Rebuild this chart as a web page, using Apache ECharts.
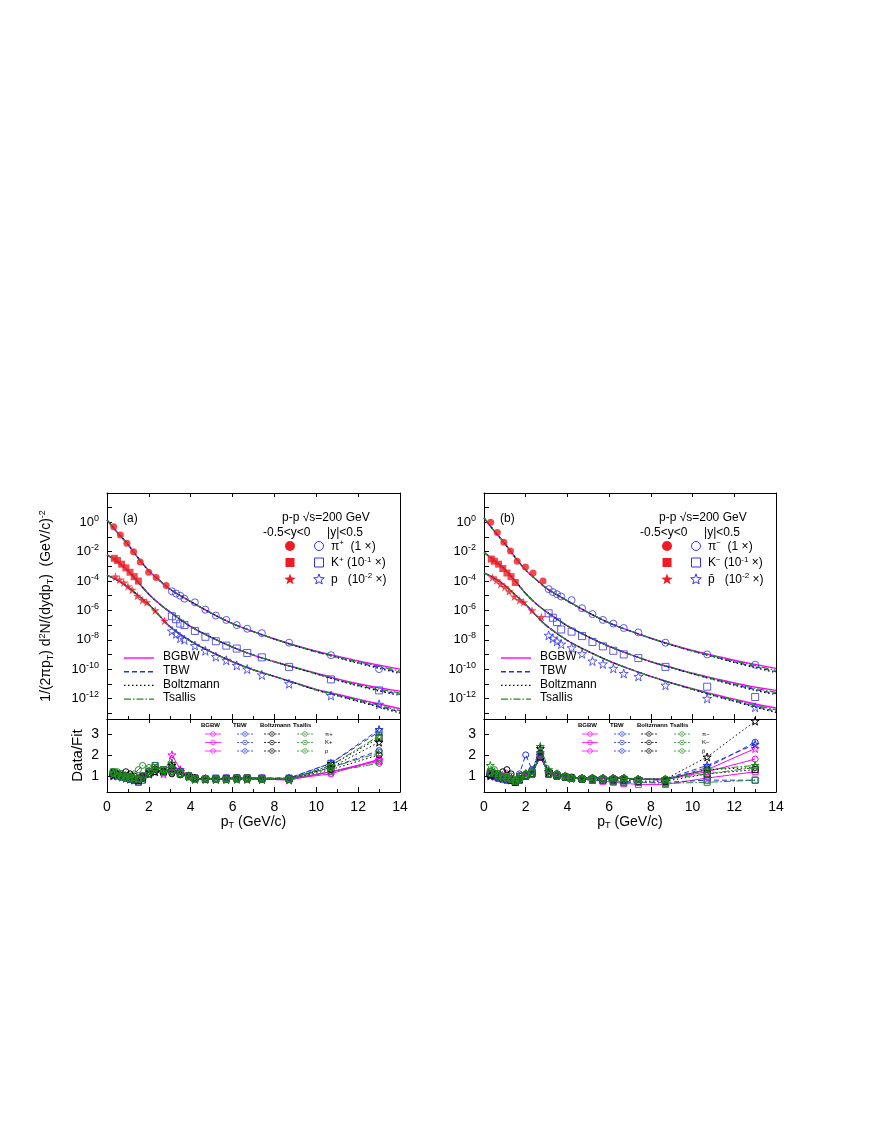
<!DOCTYPE html><html><head><meta charset="utf-8">
<script src="https://cdn.jsdelivr.net/npm/echarts@6/dist/echarts.min.js"></script>
<style>html,body{margin:0;background:#fff}#c{width:872px;height:1128px}</style></head><body><div id="c"></div>
<script>
// ---- data (log10 of spectra) ----
const xRedPi=[0.32,0.64,0.95,1.27,1.59,1.99,2.35,2.83];
const aRedPi=[-0.3,-0.86,-1.43,-2.0,-2.7,-3.4,-3.75,-4.3];
const xRedK=[0.35,0.5,0.7,0.9,1.1,1.3,1.5];
const aRedK=[-2.45,-2.6,-2.85,-3.1,-3.4,-3.7,-4.0];
const xRedP=[0.4,0.6,0.8,1.0,1.2,1.45,1.7,1.9,2.3,2.75];
const aRedP=[-3.7,-3.9,-4.1,-4.35,-4.6,-5.0,-5.3,-5.45,-6.0,-6.7];
const xBlue=[3.1,3.3,3.5,3.7,4.2,4.7,5.2,5.7,6.2,6.7,7.4,8.7,10.7,13.0];
const aBluePi=[-4.7,-4.85,-5.0,-5.2,-5.45,-5.95,-6.35,-6.65,-7.0,-7.25,-7.55,-8.2,-9.05,-10.0];
const aBlueK=[-6.4,-6.6,-6.9,-7.0,-7.4,-7.8,-8.1,-8.4,-8.6,-8.9,-9.2,-9.85,-10.7,-11.45];
const aBlueP=[-7.4,-7.6,-7.9,-8.0,-8.4,-8.75,-9.15,-9.4,-9.75,-10.0,-10.4,-11.0,-11.8,-12.4];
const bRedPi=[0.0,-0.7,-1.35,-1.95,-2.65,-3.05,-3.45,-4.0];
const bRedK=[-2.5,-2.65,-2.85,-3.15,-3.45,-3.7,-4.1];
const bRedP=[-3.75,-3.95,-4.2,-4.4,-4.7,-5.05,-5.3,-5.45,-6.0,-6.45];
const bBluePi=[-4.55,-4.75,-4.9,-5.05,-5.3,-5.85,-6.25,-6.65,-6.9,-7.2,-7.5,-8.2,-9.0,-9.7];
const bBlueK=[-6.2,-6.5,-6.8,-7.3,-7.45,-7.75,-8.15,-8.45,-8.75,-9.0,-9.25,-9.85,-11.2,-11.9];
const bBlueP=[-7.7,-7.9,-8.1,-8.3,-8.55,-8.95,-9.45,-9.65,-9.95,-10.3,-10.5,-11.1,-12.0,-12.6];
// fit curves (log10)
const xFit=[0,0.5,1,1.5,2,2.5,3,4,5,6,7,8,9,10,11,12,13,14];
const aFitPi=[0.16,-0.7,-1.5,-2.45,-3.3,-3.95,-4.55,-5.4,-6.2,-6.9,-7.45,-7.95,-8.4,-8.8,-9.15,-9.5,-9.8,-10.1];
const aFitK=[-2.2,-2.7,-3.3,-4.1,-4.9,-5.55,-6.1,-7.1,-7.85,-8.5,-9.05,-9.5,-9.9,-10.3,-10.7,-11.05,-11.35,-11.6];
const aFitP=[-3.6,-3.95,-4.4,-5.0,-5.6,-6.35,-7.1,-8.1,-8.85,-9.5,-10.05,-10.5,-10.95,-11.4,-11.75,-12.1,-12.45,-12.8];
const bFitPi=[0.3,-0.6,-1.45,-2.4,-3.25,-3.9,-4.5,-5.35,-6.15,-6.85,-7.4,-7.9,-8.35,-8.75,-9.1,-9.45,-9.75,-10.05];
const bFitK=[-2.05,-2.6,-3.2,-4.0,-4.85,-5.55,-6.1,-7.05,-7.8,-8.45,-9.0,-9.5,-9.9,-10.3,-10.65,-11.0,-11.3,-11.55];
const bFitP=[-3.45,-3.8,-4.3,-4.95,-5.6,-6.35,-7.05,-8.05,-8.8,-9.45,-10.0,-10.5,-10.95,-11.35,-11.75,-12.1,-12.45,-12.75];
const modelNames=['BGBW','TBW','Boltzmann','Tsallis'];
const tailOff=[[0,0,0,0.02,0.05,0.1],[0,0,0,-0.02,-0.06,-0.12],[0,0,0,-0.03,-0.1,-0.2],[0,0,0,0,0,-0.03]];
const tailX=[0,6,8,10,12,14];
// ratio data
const xR=[0.3,0.5,0.7,0.9,1.1,1.3,1.5,1.7,2.0,2.3,2.7,3.1,3.5,3.9,4.2,4.7,5.2,5.7,6.2,6.7,7.4,8.7,10.7,13.0];
const rA={
 BGBW:[[1.1,1.05,0.95,0.9,0.9,0.85,0.9,1.0,1.1,1.2,1.2,1.15,1.1,0.95,0.9,0.85,0.85,0.85,0.9,0.9,0.9,0.85,1.1,1.8],
       [1.05,1.0,1.0,0.95,0.9,0.85,0.8,0.9,1.2,1.4,1.3,1.5,1.2,1.0,0.9,0.85,0.85,0.9,0.9,0.9,0.9,0.85,1.2,1.7],
       [1.0,1.1,1.0,0.9,0.95,0.9,0.85,1.0,1.2,1.3,1.1,2.0,1.3,1.0,0.85,0.9,0.85,0.85,0.9,0.85,0.85,0.8,1.2,1.75]],
 TBW:[[1.15,1.1,1.0,0.9,0.85,0.8,0.75,0.9,1.1,1.3,1.25,1.2,1.1,1.0,0.9,0.85,0.85,0.9,0.9,0.9,0.9,0.9,1.4,2.2],
      [1.1,1.0,0.95,0.9,0.85,0.8,0.7,0.8,1.2,1.5,1.3,1.3,1.2,1.0,0.85,0.85,0.9,0.9,0.9,0.9,0.9,0.9,1.6,3.1],
      [1.0,1.1,0.95,0.9,0.85,0.8,0.8,0.9,1.1,1.3,1.2,1.6,1.2,1.0,0.85,0.85,0.85,0.85,0.9,0.9,0.85,0.9,1.6,3.2]],
 Boltzmann:[[1.2,1.1,1.1,1.2,1.1,1.0,0.9,1.0,1.1,1.2,1.2,1.1,1.05,1.0,0.9,0.85,0.85,0.85,0.85,0.85,0.85,0.85,1.3,2.0],
      [1.1,1.05,1.0,1.0,0.95,0.85,0.8,0.9,1.1,1.3,1.2,1.3,1.1,1.0,0.9,0.85,0.85,0.85,0.9,0.9,0.85,0.85,1.5,2.8],
      [1.05,1.1,1.0,0.95,0.9,0.85,0.8,0.9,1.1,1.2,1.2,1.5,1.2,1.0,0.9,0.85,0.85,0.85,0.85,0.85,0.85,0.85,1.4,2.6]],
 Tsallis:[[1.1,1.2,1.1,1.0,1.0,1.1,1.3,1.5,1.4,1.5,1.3,1.2,1.1,1.0,0.9,0.85,0.85,0.85,0.9,0.9,0.9,0.85,1.2,1.6],
      [1.2,1.1,1.0,0.95,0.9,0.85,0.85,1.0,1.2,1.4,1.3,1.3,1.1,1.0,0.85,0.85,0.85,0.85,0.9,0.9,0.85,0.85,1.4,2.1],
      [1.1,1.0,0.95,0.9,0.9,0.9,0.85,0.9,1.1,1.3,1.2,1.6,1.2,0.95,0.85,0.85,0.85,0.85,0.85,0.85,0.85,0.85,1.5,2.9]]
};
const rB={
 BGBW:[[1.1,1.0,0.95,1.0,1.1,0.9,0.7,1.0,1.0,1.1,2.0,1.2,1.1,1.0,0.9,0.9,0.9,0.9,0.9,0.9,0.85,0.85,1.2,1.8],
       [1.05,1.0,0.9,0.9,0.85,0.8,0.7,0.8,1.0,1.1,1.9,1.1,1.0,0.95,0.9,0.85,0.8,0.75,0.7,0.65,0.6,0.6,0.9,1.2],
       [1.0,1.0,0.95,0.9,0.9,0.85,0.75,0.85,1.0,1.1,2.0,1.1,1.05,0.95,0.9,0.9,0.9,0.9,0.9,0.9,0.85,0.8,1.3,2.3]],
 TBW:[[1.1,0.95,0.9,0.85,0.8,0.8,0.75,1.1,2.0,1.3,2.1,1.2,1.05,0.95,0.9,0.9,0.9,0.85,0.85,0.85,0.85,0.8,1.4,2.6],
      [1.05,1.0,0.9,0.85,0.8,0.8,0.7,0.8,1.0,1.2,1.9,1.1,1.0,0.95,0.9,0.85,0.8,0.8,0.75,0.7,0.7,0.7,0.8,0.8],
      [1.0,1.0,0.95,0.9,0.85,0.8,0.75,0.85,1.1,1.2,2.1,1.2,1.05,0.95,0.9,0.9,0.9,0.9,0.85,0.85,0.85,0.85,1.5,2.5]],
 Boltzmann:[[1.2,1.1,1.1,1.2,1.3,1.1,0.8,1.0,1.1,1.1,2.0,1.2,1.1,1.0,0.95,0.9,0.9,0.9,0.9,0.9,0.85,0.85,1.3,1.4],
      [1.1,1.05,1.0,0.95,0.9,0.8,0.7,0.85,1.0,1.1,1.9,1.1,1.0,0.95,0.9,0.85,0.85,0.8,0.8,0.8,0.75,0.75,1.1,1.3],
      [1.05,1.1,1.0,0.95,0.9,0.85,0.75,0.9,1.1,1.2,2.3,1.2,1.1,1.0,0.9,0.9,0.9,0.9,0.9,0.9,0.85,0.85,1.9,3.6]],
 Tsallis:[[1.1,1.3,1.1,1.0,1.0,1.0,0.8,1.0,1.1,1.2,2.0,1.2,1.1,1.0,0.9,0.9,0.9,0.9,0.9,0.9,0.85,0.85,1.1,1.4],
      [1.2,1.1,1.0,0.95,0.9,0.85,0.75,0.85,1.0,1.1,2.0,1.1,1.0,0.95,0.9,0.85,0.8,0.8,0.75,0.75,0.7,0.65,0.7,0.8],
      [1.5,1.2,1.0,0.95,0.9,0.85,0.75,0.9,1.1,1.2,2.4,1.3,1.1,1.0,0.9,0.9,0.9,0.9,0.9,0.9,0.85,0.85,1.3,1.5]]
};

// ---- styles ----
const RED='#ee1c24', BLUE='#3333ee';
const STAR='path://M50,0 L61,35 L98,35 L68,57 L79,91 L50,70 L21,91 L32,57 L2,35 L39,35 Z';
const mStyle=[{c:'#ff00ff',t:'solid'},{c:'#2233dd',t:[5,3]},{c:'#000',t:[1.5,2.5]},{c:'#228b22',t:[7,2,1.5,2]}];
const syms=['circle','rect',STAR];
const G=[{left:107,top:493,width:293,height:226},{left:107,top:719,width:293,height:73},
         {left:484,top:493,width:292,height:226},{left:484,top:719,width:292,height:73}];
const zip=(x,y)=>x.map((v,i)=>[v,y[i]]);
function interpTail(xs,off,x){for(let i=0;i<xs.length-1;i++){if(x>=xs[i]&&x<=xs[i+1]){const t=(x-xs[i])/(xs[i+1]-xs[i]);return off[i]+t*(off[i+1]-off[i]);}}return 0;}

const xAxis=[],yAxis=[],series=[];
G.forEach((g,i)=>{
  const low=i%2===1;
  xAxis.push({gridIndex:i,type:'value',min:0,max:14,interval:2,
    axisLine:{onZero:false,lineStyle:{color:'#000'}},axisTick:{inside:true,length:5,lineStyle:{color:'#000'}},
    minorTick:{show:true,splitNumber:2,length:3,lineStyle:{color:'#000'}},splitLine:{show:false},
    axisLabel:{show:low,color:'#000',fontSize:14,fontFamily:'Arial'},
    name:low?'{n|p}{s|T}{n| (GeV/c)}':'',nameLocation:'middle',nameGap:20,
    nameTextStyle:{rich:{n:{fontSize:14,fontFamily:'Arial',color:'#000'},s:{fontSize:9,padding:[8,0,0,0],fontFamily:'Arial',color:'#000'}}}});
  if(!low){
    yAxis.push({gridIndex:i,type:'value',min:-13.4,max:2,
      axisLine:{onZero:false,lineStyle:{color:'#000'}},splitLine:{show:false},
      axisTick:{inside:true,length:5,customValues:[-13,-12,-11,-10,-9,-8,-7,-6,-5,-4,-3,-2,-1,0,1],lineStyle:{color:'#000'}},
      axisLabel:{customValues:[0,-2,-4,-6,-8,-10,-12],color:'#000',fontSize:13,fontFamily:'Arial',
        formatter:v=>'10{s|'+v+'}',rich:{s:{fontSize:9,padding:[0,0,8,0],fontFamily:'Arial',color:'#000'}}},
      name:i===0?'{n|1/(2πp}{s|T}{n|) d}{u|2}{n|N/(dydp}{s|T}{n|)  (GeV/c)}{u|-2}':'',nameLocation:'middle',nameGap:52,nameRotate:90,
      nameTextStyle:{rich:{n:{fontSize:14,fontFamily:'Arial',color:'#000'},s:{fontSize:9,padding:[8,0,0,0],fontFamily:'Arial',color:'#000'},u:{fontSize:9,padding:[0,0,8,0],fontFamily:'Arial',color:'#000'}}}});
  } else {
    yAxis.push({gridIndex:i,type:'value',min:0.24,max:3.7,
      axisLine:{onZero:false,lineStyle:{color:'#000'}},splitLine:{show:false},
      axisTick:{inside:true,length:5,customValues:[1,2,3],lineStyle:{color:'#000'}},
      axisLabel:{customValues:[1,2,3],color:'#000',fontSize:14,fontFamily:'Arial'},
      name:i===1?'Data/Fit':'',nameLocation:'middle',nameGap:22,nameRotate:90,nameTextStyle:{fontSize:15,fontFamily:'Arial',color:'#000'}});
  }
});
G.forEach((g,i)=>{
  xAxis.push({gridIndex:i,type:'value',min:0,max:14,interval:2,position:'top',axisLine:{onZero:false,lineStyle:{color:'#000'}},
    axisTick:{inside:true,length:4,lineStyle:{color:'#000'}},axisLabel:{show:false},splitLine:{show:false}});
  yAxis.push({gridIndex:i,type:'value',min:0,max:1,position:'right',axisLine:{onZero:false,lineStyle:{color:'#000'}},axisTick:{show:false},axisLabel:{show:false},splitLine:{show:false}});
});

function spectra(gi,fits,reds,blues,xReds){
  fits.forEach((f)=>{
    mStyle.forEach((m,mi)=>{
      series.push({type:'line',xAxisIndex:gi,yAxisIndex:gi,showSymbol:false,smooth:0.3,z:3,
        lineStyle:{color:m.c,type:m.t,width:mi===0?1.4:1.2},itemStyle:{color:m.c},
        data:xFit.map((x,k)=>[x,f[k]+interpTail(tailX,tailOff[mi],x)])});
    });
  });
  reds.forEach((r,k)=>series.push({type:'scatter',xAxisIndex:gi,yAxisIndex:gi,symbol:syms[k],symbolSize:k===2?9:7,z:5,
      itemStyle:{color:RED},data:zip(xReds[k],r)}));
  blues.forEach((b,k)=>series.push({type:'scatter',xAxisIndex:gi,yAxisIndex:gi,symbol:syms[k],symbolSize:k===2?9:7,z:5,
      itemStyle:{color:'rgba(0,0,0,0)',borderColor:BLUE,borderWidth:1},data:zip(xBlue,b)}));
}
spectra(0,[aFitPi,aFitK,aFitP],[aRedPi,aRedK,aRedP],[aBluePi,aBlueK,aBlueP],[xRedPi,xRedK,xRedP]);
spectra(2,[bFitPi,bFitK,bFitP],[bRedPi,bRedK,bRedP],[bBluePi,bBlueK,bBlueP],[xRedPi,xRedK,xRedP]);

function ratios(gi,R){
  modelNames.forEach((n,mi)=>{
    R[n].forEach((arr,k)=>{
      series.push({type:'line',xAxisIndex:gi,yAxisIndex:gi,symbol:syms[k],symbolSize:k===2?8:6,showSymbol:true,z:4,
        lineStyle:{color:mStyle[mi].c,type:mi===0?'solid':mStyle[mi].t,width:1},
        itemStyle:{color:'rgba(0,0,0,0)',borderColor:mStyle[mi].c,borderWidth:1},data:zip(xR,arr)});
    });
  });
}
ratios(1,rA);ratios(3,rB);

// legends as graphics
const graphic=[];
function starPts(cx,cy,r){const p=[];for(let i=0;i<10;i++){const a=-Math.PI/2+i*Math.PI/5;const rr=i%2?r*0.42:r;p.push([cx+rr*Math.cos(a),cy+rr*Math.sin(a)]);}return p;}
const T=(x,y,t,font,rich)=>graphic.push({type:'text',x:x,y:y,style:{text:t,font:font||'12px Arial',fill:'#000',rich:rich}});
function marker(k,cx,cy,filled){
  const st=filled?{fill:RED}:{fill:'none',stroke:BLUE,lineWidth:1};
  if(k===0) graphic.push({type:'circle',shape:{cx,cy,r:filled?5:4.5},style:st});
  else if(k===1) graphic.push({type:'rect',shape:{x:cx-4.5,y:cy-4.5,width:9,height:9},style:st});
  else graphic.push({type:'polygon',shape:{points:starPts(cx,cy+0.5,filled?6:5.5)},style:st});
}
function panelText(ox,lab,parts){
  T(ox+16,513,lab);
  T(ox+175,512,'p-p √s=200 GeV');
  T(ox+156,527,'-0.5<y<0     |y|<0.5');
  const rich={s:{fontSize:8,padding:[0,0,7,0],fill:'#000'}};
  parts.forEach((p,k)=>{
    const y=546+k*16.5;
    marker(k,ox+183,y,true);
    marker(k,ox+212,y,false);
    T(ox+224,y-7,p,'12px Arial',rich);
  });
  modelNames.forEach((n,mi)=>{
    const y=658+mi*13.7;
    graphic.push({type:'line',shape:{x1:ox+17,y1:y,x2:ox+47,y2:y},style:{stroke:mStyle[mi].c,lineWidth:1.4,lineDash:mi===0?null:mStyle[mi].t}});
    T(ox+56,y-7,n);
  });
  const hx=[ox+98,ox+130,ox+157,ox+190];
  modelNames.forEach((n,mi)=>{
    T(hx[mi]-4,722,n,'bold 6px Arial');
    for(let k=0;k<3;k++){
      const y=734+k*8.5;
      graphic.push({type:'line',shape:{x1:hx[mi],y1:y,x2:hx[mi]+16,y2:y},style:{stroke:mStyle[mi].c,lineWidth:0.8,lineDash:mi===0?null:[2,1.5]}});
      graphic.push({type:'circle',shape:{cx:hx[mi]+8,cy:y,r:2.3},style:{fill:'none',stroke:mStyle[mi].c,lineWidth:0.7}});
    }
  });
}
panelText(107,'(a)',['π{s|+}  (1 ×)','K{s|+} (10{s|-1} ×)','p   (10{s|-2} ×)']);
panelText(484,'(b)',['π{s|−}  (1 ×)','K{s|−} (10{s|-1} ×)','p̄   (10{s|-2} ×)']);
[[107,['π+','K+','p']],[484,['π−','K−','p̄']]].forEach(([ox,l])=>l.forEach((t,k)=>T(ox+218,731+k*8.5,t,'6px Arial')));

const ch=echarts.init(document.getElementById('c'),null,{renderer:'canvas'});
ch.setOption({animation:false,backgroundColor:'#fff',grid:G,xAxis,yAxis,series,graphic});
</script></body></html>
